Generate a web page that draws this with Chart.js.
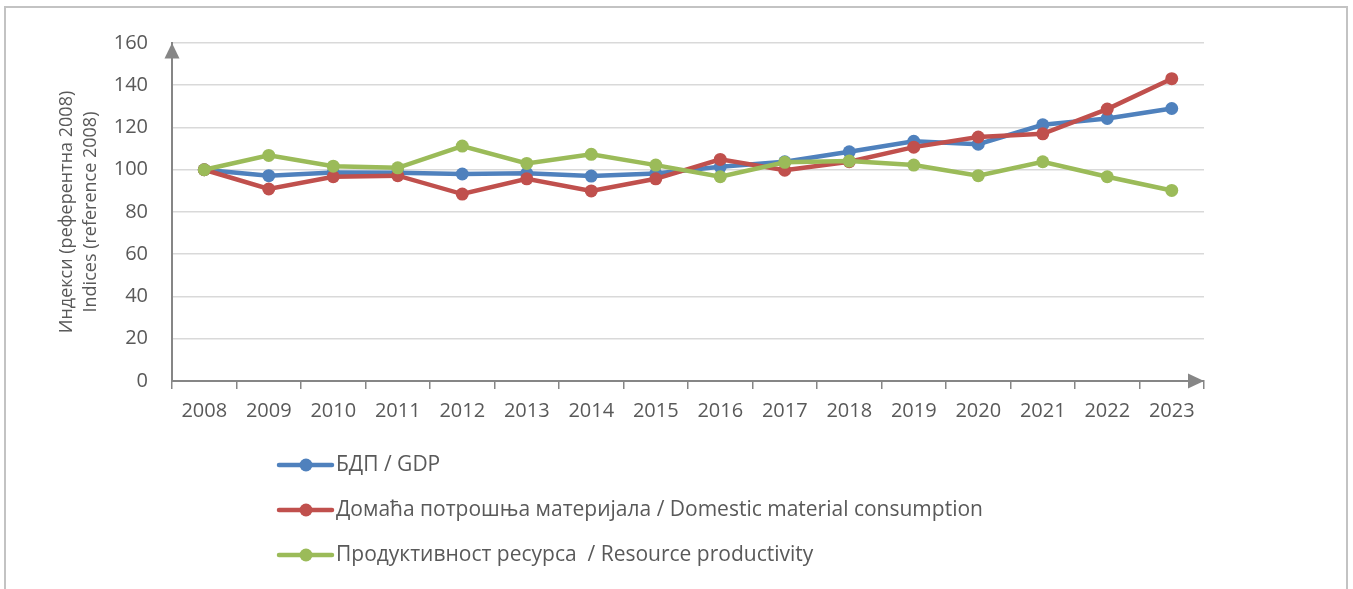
<!DOCTYPE html>
<html>
<head>
<meta charset="utf-8">
<script src="https://cdn.jsdelivr.net/npm/chart.js@4/dist/chart.umd.min.js"></script>
<style>
  html, body { margin: 0; padding: 0; background: #ffffff; }
  #wrap { position: relative; width: 1353px; height: 589px; }
  canvas { display: block; }
</style>
</head>
<body>
<div id="wrap"><canvas id="c" width="1353" height="589"></canvas></div>
<script>
// Years on the category axis
const years = ['2008','2009','2010','2011','2012','2013','2014','2015',
               '2016','2017','2018','2019','2020','2021','2022','2023'];

// Index values, 2008 = 100
const gdp = [100, 97.2, 98.7, 98.6, 98.0, 98.3, 97.0, 98.2,
             101.4, 103.8, 108.5, 113.5, 112.1, 121.3, 124.3, 129.0];
const dmc = [100, 90.9, 96.7, 97.2, 88.5, 95.7, 90.0, 95.7,
             104.9, 99.8, 103.8, 110.7, 115.5, 117.0, 128.7, 143.1];
const productivity = [100, 106.8, 101.7, 100.9, 111.2, 103.0, 107.3, 102.2,
                      96.7, 103.5, 104.1, 102.2, 97.2, 103.8, 96.7, 90.2];

const seriesNames = ['БДП / GDP',
                     'Домаћа потрошња материјала / Domestic material consumption',
                     'Продуктивност ресурса  / Resource productivity'];
const seriesColors = ['#4F81BD', '#C0504D', '#9BBB59'];

const yTitle = ['Индекси (референтна 2008)', 'Indices (reference 2008)'];

const yTicks = { min: 0, max: 160, step: 20 };

const FONT = '"Open Sans", "Noto Sans", sans-serif';
const TEXT = '#595959';
const AXIS = '#868686';

// Frame, axis arrows, rotated axis title and the stacked legend
const decorations = {
  id: 'decorations',
  beforeDraw(chart) {
    const ctx = chart.ctx;
    ctx.save();
    ctx.strokeStyle = '#c3c3c3';
    ctx.lineWidth = 2;
    ctx.strokeRect(5, 7, 1342, 700);
    ctx.restore();
  },
  afterDraw(chart) {
    const ctx = chart.ctx;
    const a = chart.chartArea;
    ctx.save();
    // arrow heads on the axes
    ctx.fillStyle = AXIS;
    ctx.beginPath();
    ctx.moveTo(a.left, a.top);
    ctx.lineTo(a.left - 7.5, a.top + 15.5);
    ctx.lineTo(a.left + 7.5, a.top + 15.5);
    ctx.closePath();
    ctx.fill();
    ctx.beginPath();
    ctx.moveTo(a.right, a.bottom);
    ctx.lineTo(a.right - 16, a.bottom - 7.5);
    ctx.lineTo(a.right - 16, a.bottom + 7.5);
    ctx.closePath();
    ctx.fill();

    // axis title, two rotated lines
    ctx.fillStyle = TEXT;
    ctx.font = '18px ' + FONT;
    ctx.textAlign = 'center';
    ctx.textBaseline = 'middle';
    const cy = (a.top + a.bottom) / 2;
    const xs = [67, 91];
    yTitle.forEach((t, i) => {
      ctx.save();
      ctx.translate(xs[i], cy);
      ctx.rotate(-Math.PI / 2);
      ctx.fillText(t, 0, 0);
      ctx.restore();
    });

    // legend, one entry per row
    const rows = [465, 510, 555];
    chart.data.datasets.forEach((ds, i) => {
      const y = rows[i];
      ctx.strokeStyle = ds.borderColor;
      ctx.lineWidth = 4.5;
      ctx.lineCap = 'round';
      ctx.beginPath();
      ctx.moveTo(279, y);
      ctx.lineTo(332, y);
      ctx.stroke();
      ctx.fillStyle = ds.borderColor;
      ctx.beginPath();
      ctx.arc(306, y, 6.5, 0, Math.PI * 2);
      ctx.fill();
      ctx.fillStyle = TEXT;
      ctx.font = '21px ' + FONT;
      ctx.textAlign = 'left';
      ctx.textBaseline = 'middle';
      ctx.fillText(ds.label, 336, y);
    });
    ctx.restore();
  }
};

const makeSet = (label, data, color, order) => ({
  label, data, order,
  borderColor: color,
  backgroundColor: color,
  borderWidth: 4.5,
  pointRadius: 6.5,
  pointHoverRadius: 6.5,
  pointBorderWidth: 0,
  pointBackgroundColor: color,
  tension: 0,
  fill: false
});

new Chart(document.getElementById('c'), {
  type: 'line',
  data: {
    labels: years,
    datasets: [
      makeSet(seriesNames[0], gdp, seriesColors[0], 3),
      makeSet(seriesNames[1], dmc, seriesColors[1], 2),
      makeSet(seriesNames[2], productivity, seriesColors[2], 1)
    ]
  },
  options: {
    responsive: false,
    animation: false,
    layout: { padding: { left: 0, right: 149, top: 43, bottom: 0 } },
    plugins: {
      legend: { display: false },
      tooltip: { enabled: false },
      title: { display: false }
    },
    scales: {
      x: {
        type: 'category',
        offset: true,
        afterFit(s) { s.height = 208; },
        grid: {
          offset: true,
          drawOnChartArea: false,
          drawTicks: true,
          tickLength: 8,
          color: AXIS,
          lineWidth: 1.5
        },
        border: { display: true, color: AXIS, width: 2 },
        ticks: {
          color: TEXT,
          font: { family: FONT, size: 20 },
          padding: 10,
          maxRotation: 0,
          autoSkip: false
        }
      },
      y: {
        min: yTicks.min,
        max: yTicks.max,
        afterFit(s) { s.width = 172; },
        grid: {
          color: '#d9d9d9',
          lineWidth: 1.6,
          drawTicks: false
        },
        border: { display: true, color: AXIS, width: 2 },
        ticks: {
          stepSize: yTicks.step,
          color: TEXT,
          font: { family: FONT, size: 20 },
          padding: 24
        }
      }
    }
  },
  plugins: [decorations]
});
</script>
</body>
</html>
